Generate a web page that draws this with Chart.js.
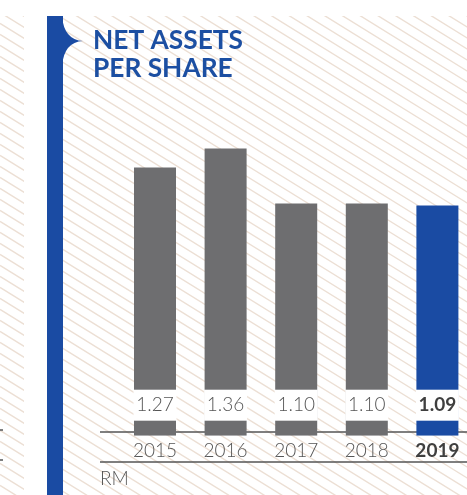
<!DOCTYPE html>
<html><head><meta charset="utf-8">
<script src="https://cdn.jsdelivr.net/npm/chart.js@4"></script>
<style>
html,body{margin:0;padding:0;overflow:hidden;background:#fff;width:467px;height:495px}
#wrap{position:absolute;left:0;top:0;width:480px;height:495px}
</style></head>
<body><div id="wrap"><canvas id="c"></canvas></div>
<script>
const years = ['2015', '2016', '2017', '2018', '2019'];
const netAssetsPerShare = [1.27, 1.36, 1.10, 1.10, 1.09];
const valueLabels = ['1.27', '1.36', '1.10', '1.10', '1.09'];
const titleLines = ['NET ASSETS', 'PER SHARE'];
const unitLabel = 'RM';
const highlightIndex = 4;

const GRAY = '#6e6e70', BLUE = '#1a4ba3', TEXT = '#555555', TEXT_BOLD = '#3f3f3f';
const FONT = 'Lato, "Open Sans", sans-serif';

const decor = {
  id: 'decor',
  beforeDraw(chart) {
    const ctx = chart.ctx, W = chart.width, H = chart.height;
    ctx.save();
    ctx.fillStyle = '#fff';
    ctx.fillRect(0, 0, W, H);
    // hatch
    ctx.save();
    ctx.beginPath();
    ctx.rect(0, 16, 24, H - 16);
    ctx.rect(63, 16, W - 63, H - 16);
    ctx.clip();
    ctx.strokeStyle = '#ecdfd4';
    ctx.lineWidth = 1.4;
    const s = 0.62, step = 11;
    for (let c = -W * s - 20; c < H + 20; c += step) {
      ctx.beginPath();
      ctx.moveTo(0, c);
      ctx.lineTo(W, c + s * W);
      ctx.stroke();
    }
    ctx.restore();
    // blue bar with notch
    ctx.fillStyle = BLUE;
    ctx.fillRect(47, 16, 16, H - 16);
    ctx.beginPath();
    ctx.moveTo(62, 16);
    ctx.quadraticCurveTo(64, 40, 83, 41);
    ctx.quadraticCurveTo(64, 42, 62, 66);
    ctx.closePath();
    ctx.fill();
    // title
    ctx.fillStyle = '#1c4fa2';
    ctx.textBaseline = 'alphabetic';
    ctx.textAlign = 'left';
    let fs = 24;
    ctx.font = `bold ${fs}px ${FONT}`;
    const w = ctx.measureText(titleLines[0]).width;
    fs = fs * 150 / w;
    ctx.font = `bold ${fs}px ${FONT}`;
    ctx.fillText(titleLines[0], 93, 49);
    ctx.fillText(titleLines[1], 93, 77);
    // axis lines
    ctx.strokeStyle = '#555';
    ctx.lineWidth = 1.5;
    ctx.beginPath();
    ctx.moveTo(100, 432); ctx.lineTo(W, 432);
    ctx.moveTo(100, 462); ctx.lineTo(W, 462);
    ctx.moveTo(0, 430); ctx.lineTo(3, 430);
    ctx.moveTo(0, 460); ctx.lineTo(3, 460);
    ctx.stroke();
    // unit
    ctx.fillStyle = TEXT;
    ctx.font = `300 19px ${FONT}`;
    ctx.fillText(unitLabel, 100, 485);
    ctx.restore();
  },
  afterDatasetsDraw(chart) {
    const ctx = chart.ctx;
    const meta = chart.getDatasetMeta(0);
    const bottom = chart.scales.y.getPixelForValue(0);
    ctx.save();
    meta.data.forEach((bar, i) => {
      const w = bar.width;
      ctx.fillStyle = '#fff';
      ctx.fillRect(bar.x - w / 2 - 0.5, bottom - 46, w + 1, 31);
      ctx.fillStyle = i === highlightIndex ? TEXT_BOLD : TEXT;
      ctx.font = (i === highlightIndex ? 'bold ' : '300 ') + `19px ${FONT}`;
      ctx.textAlign = 'center';
      ctx.textBaseline = 'middle';
      ctx.fillText(valueLabels[i], bar.x, bottom - 30.5);
    });
    ctx.restore();
  }
};

new Chart(document.getElementById('c'), {
  type: 'bar',
  data: {
    labels: years,
    datasets: [{
      data: netAssetsPerShare,
      backgroundColor: years.map((_, i) => i === highlightIndex ? BLUE : GRAY),
      borderWidth: 0,
      barPercentage: 1,
      categoryPercentage: 0.595
    }]
  },
  options: {
    responsive: true,
    maintainAspectRatio: false,
    animation: false,
    layout: { padding: { left: 119.7, right: 7.3, top: 119, bottom: 28.5 } },
    plugins: { legend: { display: false }, tooltip: { enabled: false } },
    scales: {
      x: {
        grid: { display: false, drawTicks: false },
        border: { display: false },
        ticks: {
          padding: 4,
          color: (c) => c.index === highlightIndex ? TEXT_BOLD : TEXT,
          font: (c) => ({ family: FONT, size: 19, weight: c.index === highlightIndex ? 'bold' : '300' })
        }
      },
      y: { display: false, min: 0, max: 1.5 }
    }
  },
  plugins: [decor]
});
</script>
</body></html>
